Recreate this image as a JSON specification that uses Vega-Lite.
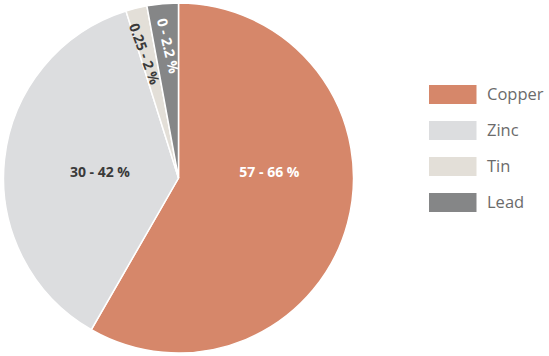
{
  "$schema": "https://vega.github.io/schema/vega-lite/v6.json",
  "width": 355,
  "height": 354,
  "padding": 0,
  "background": "white",
  "data": {
    "values": [
      {"metal": "Copper", "share": 58.3, "ord": 1, "label": "57 - 66 %", "labelTheta": 24.1, "labelR": 0.52},
      {"metal": "Zinc", "share": 36.85, "ord": 2, "label": "30 - 42 %", "labelTheta": 76.0, "labelR": 0.45},
      {"metal": "Tin", "share": 1.96, "ord": 3, "label": "0.25 - 2 %", "labelTheta": 95.6, "labelR": 0.735},
      {"metal": "Lead", "share": 2.89, "ord": 4, "label": "0 - 2.2 %", "labelTheta": 98.6, "labelR": 0.757}
    ]
  },
  "layer": [
    {
      "mark": {"type": "arc", "radius": 175, "stroke": "white", "strokeWidth": 1.5},
      "encoding": {
        "theta": {"field": "share", "type": "quantitative", "stack": true, "scale": {"domain": [0, 100]}},
        "order": {"field": "ord", "type": "quantitative", "sort": "ascending"},
        "color": {
          "field": "metal",
          "type": "nominal",
          "scale": {"domain": ["Copper", "Zinc", "Tin", "Lead"], "range": ["#d6876a", "#dcdddf", "#e3dfd8", "#858687"]},
          "legend": {
            "title": null,
            "orient": "none",
            "legendX": 428,
            "legendY": 84,
            "padding": 0,
            "symbolType": "M-1,-1H4V1H-1Z",
            "symbolSize": 361,
            "symbolStrokeWidth": 0,
            "symbolOpacity": 1,
            "labelFont": "Open Sans",
            "labelFontSize": 16.5,
            "labelColor": "#6b6b6b",
            "labelOffset": 39,
            "rowPadding": 17
          }
        }
      }
    },
    {
      "transform": [{"filter": "datum.metal === 'Copper'"}],
      "mark": {"type": "text", "font": "Open Sans", "fontWeight": "bold", "fontSize": 14, "color": "white", "align": "center", "baseline": "middle"},
      "encoding": {
        "theta": {"field": "labelTheta", "type": "quantitative", "stack": null, "scale": {"domain": [0, 100]}},
        "radius": {"field": "labelR", "type": "quantitative", "scale": {"type": "linear", "domain": [0, 1], "range": [0, 175], "zero": true}},
        "text": {"field": "label"}
      }
    },
    {
      "transform": [{"filter": "datum.metal === 'Zinc'"}],
      "mark": {"type": "text", "font": "Open Sans", "fontWeight": "bold", "fontSize": 14, "color": "#3a3a3a", "align": "center", "baseline": "middle"},
      "encoding": {
        "theta": {"field": "labelTheta", "type": "quantitative", "stack": null, "scale": {"domain": [0, 100]}},
        "radius": {"field": "labelR", "type": "quantitative", "scale": {"type": "linear", "domain": [0, 1], "range": [0, 175], "zero": true}},
        "text": {"field": "label"}
      }
    },
    {
      "transform": [{"filter": "datum.metal === 'Tin'"}],
      "mark": {"type": "text", "font": "Open Sans", "fontWeight": "bold", "fontSize": 14, "color": "#3a3a3a", "align": "center", "baseline": "middle", "angle": 70},
      "encoding": {
        "theta": {"field": "labelTheta", "type": "quantitative", "stack": null, "scale": {"domain": [0, 100]}},
        "radius": {"field": "labelR", "type": "quantitative", "scale": {"type": "linear", "domain": [0, 1], "range": [0, 175], "zero": true}},
        "text": {"field": "label"}
      }
    },
    {
      "transform": [{"filter": "datum.metal === 'Lead'"}],
      "mark": {"type": "text", "font": "Open Sans", "fontWeight": "bold", "fontSize": 14, "color": "white", "align": "center", "baseline": "middle", "angle": 77},
      "encoding": {
        "theta": {"field": "labelTheta", "type": "quantitative", "stack": null, "scale": {"domain": [0, 100]}},
        "radius": {"field": "labelR", "type": "quantitative", "scale": {"type": "linear", "domain": [0, 1], "range": [0, 175], "zero": true}},
        "text": {"field": "label"}
      }
    }
  ],
  "config": {"view": {"stroke": null}}
}
